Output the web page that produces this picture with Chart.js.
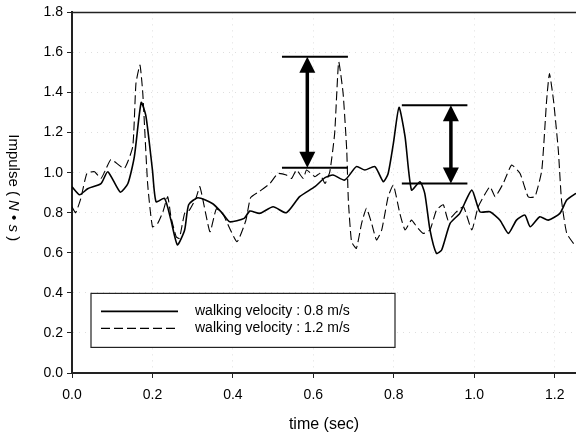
<!DOCTYPE html>
<html>
<head>
<meta charset="utf-8">
<script src="https://cdn.jsdelivr.net/npm/chart.js@4.4.0/dist/chart.umd.min.js"></script>
<style>
  html, body { margin: 0; padding: 0; background: #fff; overflow: hidden; }
  #chart { display: block; }
</style>
</head>
<body>
<canvas id="chart" width="576" height="438"></canvas>
<script>
// series 1: walking velocity 0.8 m/s (solid)
const time08 = [0, 0.019, 0.039, 0.072, 0.089, 0.12, 0.139, 0.155, 0.172, 0.184, 0.2, 0.209, 0.23, 0.246,
    0.262, 0.28, 0.29, 0.313, 0.35, 0.374, 0.392, 0.428, 0.442, 0.467, 0.5, 0.533, 0.566, 0.604, 0.629,
    0.649, 0.678, 0.707, 0.728, 0.753, 0.774, 0.786, 0.799, 0.813, 0.828, 0.844, 0.865, 0.877, 0.89,
    0.906, 0.919, 0.94, 0.964, 0.994, 1.014, 1.039, 1.064, 1.085, 1.105, 1.126, 1.139, 1.163, 1.184,
    1.213, 1.23, 1.253];
const impulse08 = [0.93, 0.89, 0.92, 0.945, 1.005, 0.903, 0.946, 1.08, 1.35, 1.28, 1.013, 0.855, 0.872, 0.763,
    0.64, 0.714, 0.84, 0.875, 0.845, 0.797, 0.755, 0.772, 0.808, 0.797, 0.83, 0.8, 0.88, 0.93, 0.975,
    0.988, 0.963, 1.03, 1.013, 1.03, 0.955, 0.996, 1.146, 1.326, 1.18, 0.913, 0.955, 0.897, 0.714,
    0.597, 0.614, 0.747, 0.797, 0.913, 0.805, 0.805, 0.763, 0.697, 0.763, 0.788, 0.73, 0.78, 0.763,
    0.797, 0.863, 0.897];

// series 2: walking velocity 1.2 m/s (dashed)
const time12 = [0, 0.009, 0.022, 0.037, 0.056, 0.072, 0.085, 0.097, 0.13, 0.151, 0.159, 0.169, 0.176, 0.188,
    0.2, 0.213, 0.226, 0.238, 0.246, 0.259, 0.267, 0.28, 0.292, 0.308, 0.318, 0.343, 0.359, 0.376, 0.41,
    0.432, 0.444, 0.465, 0.492, 0.512, 0.533, 0.546, 0.558, 0.575, 0.583, 0.604, 0.616, 0.629, 0.641,
    0.653, 0.663, 0.674, 0.683, 0.687, 0.695, 0.707, 0.72, 0.732, 0.745, 0.757, 0.77, 0.786, 0.799,
    0.815, 0.828, 0.844, 0.857, 0.873, 0.89, 0.906, 0.923, 0.935, 0.952, 0.973, 0.994, 1.01, 1.039,
    1.052, 1.072, 1.093, 1.114, 1.134, 1.151, 1.168, 1.18, 1.187, 1.197, 1.209, 1.217, 1.23, 1.253];
const impulse12 = [0.83, 0.8, 0.872, 0.996, 1.005, 0.971, 1.021, 1.066, 1.021, 1.13, 1.446, 1.537, 1.396, 0.946,
    0.73, 0.747, 0.805, 0.88, 0.78, 0.68, 0.672, 0.797, 0.813, 0.872, 0.93, 0.705, 0.82, 0.79, 0.655,
    0.76, 0.875, 0.905, 0.946, 0.996, 0.988, 0.971, 1.013, 0.971, 1.013, 0.98, 0.996, 0.946, 1.005,
    1.196, 1.553, 1.396, 1.113, 0.863, 0.655, 0.622, 0.747, 0.822, 0.747, 0.664, 0.714, 0.88, 0.938,
    0.797, 0.714, 0.763, 0.73, 0.697, 0.714, 0.813, 0.84, 0.763, 0.797, 0.83, 0.714, 0.83, 0.93,
    0.88, 0.946, 1.038, 0.996, 0.88, 0.88, 1.013, 1.362, 1.495, 1.362, 1.113, 0.863, 0.697, 0.63];

const seriesLabels = ['walking velocity : 0.8 m/s', 'walking velocity : 1.2 m/s'];

const xTicks = [0, 0.2, 0.4, 0.6, 0.8, 1.0, 1.2];
const yTicks = [0, 0.2, 0.4, 0.6, 0.8, 1.0, 1.2, 1.4, 1.6, 1.8];

// double arrows marking the peak-to-plateau drop
const arrowTime = [0.585, 0.942];
const arrowHigh = [1.578, 1.337];
const arrowLow = [1.025, 0.946];
const barStart = [0.522, 0.82];
const barEnd = [0.686, 0.983];

const FONT = '"Liberation Sans", Arial, Helvetica, sans-serif';

function toPoints(xs, ys) {
    return xs.map((x, i) => ({ x: x, y: ys[i] }));
}

const framePlugin = {
    id: 'frame',
    afterDatasetsDraw(chart) {
        const { ctx, chartArea } = chart;
        ctx.save();
        ctx.strokeStyle = '#222';
        ctx.lineWidth = 1.5;
        ctx.beginPath();
        ctx.moveTo(chartArea.left, chartArea.top);
        ctx.lineTo(chartArea.right, chartArea.top);
        ctx.stroke();
        ctx.restore();
    }
};

const arrowPlugin = {
    id: 'arrows',
    afterDatasetsDraw(chart) {
        const { ctx } = chart;
        const xs = chart.scales.x, ys = chart.scales.y;
        ctx.save();
        ctx.strokeStyle = '#000';
        ctx.fillStyle = '#000';
        arrowTime.forEach((t, i) => {
            const x = xs.getPixelForValue(t);
            const yTop = ys.getPixelForValue(arrowHigh[i]);
            const yBot = ys.getPixelForValue(arrowLow[i]);
            const x0 = xs.getPixelForValue(barStart[i]);
            const x1 = xs.getPixelForValue(barEnd[i]);
            // horizontal bars
            ctx.lineWidth = 2;
            ctx.beginPath();
            ctx.moveTo(x0, yTop); ctx.lineTo(x1, yTop);
            ctx.moveTo(x0, yBot); ctx.lineTo(x1, yBot);
            ctx.stroke();
            // shaft
            const head = 16, half = 8;
            ctx.lineWidth = 3.5;
            ctx.beginPath();
            ctx.moveTo(x, yTop + head - 2);
            ctx.lineTo(x, yBot - head + 2);
            ctx.stroke();
            // heads
            ctx.beginPath();
            ctx.moveTo(x, yTop);
            ctx.lineTo(x - half, yTop + head);
            ctx.lineTo(x + half, yTop + head);
            ctx.closePath();
            ctx.fill();
            ctx.beginPath();
            ctx.moveTo(x, yBot);
            ctx.lineTo(x - half, yBot - head);
            ctx.lineTo(x + half, yBot - head);
            ctx.closePath();
            ctx.fill();
        });
        ctx.restore();
    }
};

const boxLegendPlugin = {
    id: 'boxLegend',
    afterDatasetsDraw(chart) {
        const { ctx, chartArea } = chart;
        const left = chartArea.left + 19, top = chartArea.top + 281;
        const w = 304, h = 54;
        ctx.save();
        ctx.fillStyle = '#fff';
        ctx.fillRect(left, top, w, h);
        ctx.strokeStyle = '#222';
        ctx.lineWidth = 1.2;
        ctx.strokeRect(left, top, w, h);
        ctx.font = '14px ' + FONT;
        ctx.textBaseline = 'middle';
        chart.data.datasets.forEach((ds, i) => {
            const y = top + 18 + i * 17;
            ctx.strokeStyle = '#000';
            ctx.lineWidth = ds.borderWidth;
            ctx.setLineDash(ds.borderDash || []);
            ctx.beginPath();
            ctx.moveTo(left + 10, y);
            ctx.lineTo(left + 87, y);
            ctx.stroke();
            ctx.setLineDash([]);
            ctx.fillStyle = '#000';
            ctx.fillText(ds.label, left + 104, y);
        });
        ctx.restore();
    }
};

const yTitlePlugin = {
    id: 'yTitle',
    afterDraw(chart) {
        const { ctx, chartArea } = chart;
        const parts = [
            ['Impulse ( ', 'normal'],
            ['N', 'italic'],
            [' \u2022 ', 'normal'],
            ['s', 'italic'],
            [' )', 'normal']
        ];
        ctx.save();
        let total = 0;
        parts.forEach(p => {
            ctx.font = p[1] + ' 15px ' + FONT;
            total += ctx.measureText(p[0]).width;
        });
        ctx.translate(9, (chartArea.top + chartArea.bottom) / 2 - 5);
        ctx.rotate(Math.PI / 2);
        ctx.fillStyle = '#000';
        ctx.textBaseline = 'alphabetic';
        let x = -total / 2;
        parts.forEach(p => {
            ctx.font = p[1] + ' 15px ' + FONT;
            ctx.fillText(p[0], x, 0);
            x += ctx.measureText(p[0]).width;
        });
        ctx.restore();
    }
};

new Chart(document.getElementById('chart'), {
    type: 'line',
    data: {
        datasets: [
            {
                label: seriesLabels[0],
                data: toPoints(time08, impulse08),
                borderColor: '#000',
                borderWidth: 1.6,
                pointRadius: 0,
                tension: 0.2,
                fill: false
            },
            {
                label: seriesLabels[1],
                data: toPoints(time12, impulse12),
                borderColor: '#000',
                borderWidth: 1.1,
                borderDash: [9, 4],
                pointRadius: 0,
                tension: 0.15,
                fill: false
            }
        ]
    },
    options: {
        responsive: false,
        animation: false,
        layout: { padding: { top: 12, right: 0, left: 0, bottom: 0 } },
        plugins: {
            legend: { display: false },
            tooltip: { enabled: false }
        },
        scales: {
            x: {
                type: 'linear',
                min: 0,
                max: 1.253,
                afterBuildTicks: (axis) => { axis.ticks = xTicks.map(v => ({ value: v })); },
                afterFit: (axis) => { axis.height = 65; },
                grid: {
                    color: 'rgba(0,0,0,0.13)',
                    tickColor: '#222',
                    tickLength: 5,
                    lineWidth: 1
                },
                border: { color: '#222', width: 2, dash: [1, 5] },
                ticks: {
                    color: '#000',
                    padding: 9,
                    maxRotation: 0,
                    font: { family: FONT, size: 14 },
                    callback: (v) => Number(v).toFixed(1)
                },
                title: {
                    display: true,
                    text: 'time (sec)',
                    color: '#000',
                    font: { family: FONT, size: 16 },
                    padding: { top: 4, bottom: 4 }
                }
            },
            y: {
                min: 0,
                max: 1.8,
                afterBuildTicks: (axis) => { axis.ticks = yTicks.map(v => ({ value: v })); },
                afterFit: (axis) => { axis.width = 72; },
                grid: {
                    color: 'rgba(0,0,0,0.13)',
                    tickColor: '#222',
                    tickLength: 5,
                    lineWidth: 1
                },
                border: { color: '#222', width: 2, dash: [1, 5] },
                ticks: {
                    color: '#000',
                    padding: 4,
                    font: { family: FONT, size: 14 },
                    callback: (v) => Number(v).toFixed(1)
                }
            }
        }
    },
    plugins: [framePlugin, arrowPlugin, boxLegendPlugin, yTitlePlugin]
});
</script>
</body>
</html>
